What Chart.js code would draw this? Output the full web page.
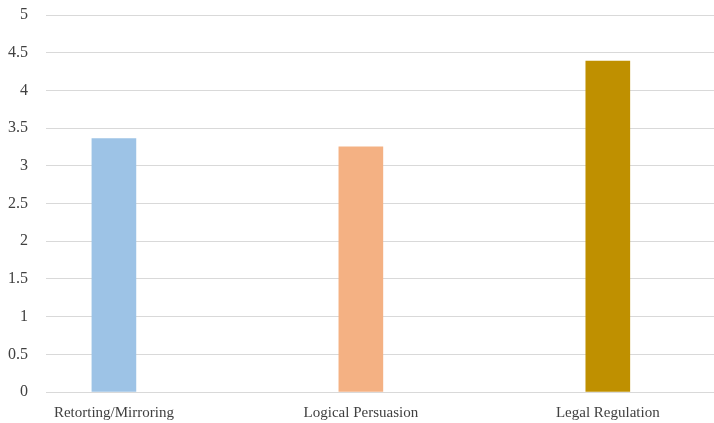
<!DOCTYPE html>
<html>
<head>
<meta charset="utf-8">
<script src="https://cdn.jsdelivr.net/npm/chart.js@4"></script>
<style>
  html, body { margin: 0; padding: 0; background: #fff; }
  #wrap { width: 714px; height: 423px; }
</style>
</head>
<body>
<div id="wrap"><canvas id="bars"></canvas></div>
<script>
// CHART DATA
let strategies = [
    "Retorting/Mirroring",
    "Logical Persuasion",
    "Legal Regulation",
];
let scores = [3.36, 3.25, 4.39];
let colors = [
    "#9DC3E6",
    "#F4B183",
    "#BF9000",
];
let yTicks = [0, 0.5, 1, 1.5, 2, 2.5, 3, 3.5, 4, 4.5, 5];

Chart.defaults.font.family = "'Liberation Serif', 'Times New Roman', serif";
Chart.defaults.color = "#404040";

new Chart("bars", {
    type: "bar",
    data: {
        datasets: [
            {
                data: scores.map((v, i) => ({ x: i, y: v })),
                backgroundColor: colors,
                barThickness: 44,
            },
        ],
    },
    options: {
        responsive: true,
        maintainAspectRatio: false,
        animation: false,
        layout: { padding: { top: 15, right: 0, bottom: 0, left: 0 } },
        plugins: {
            legend: { display: false },
            tooltip: { enabled: false },
        },
        scales: {
            x: {
                type: "linear",
                min: -0.275,
                max: 2.43,
                offset: false,
                grid: { display: false, drawTicks: false },
                border: { display: false },
                afterBuildTicks: scale => {
                    scale.ticks = strategies.map((s, i) => ({ value: i }));
                },
                afterFit: scale => {
                    scale.height = 31;
                    scale.paddingLeft = 0;
                    scale.paddingRight = 0;
                },
                ticks: {
                    autoSkip: false,
                    maxRotation: 0,
                    padding: 12,
                    font: { size: 15 },
                    callback: v => strategies[v],
                },
            },
            y: {
                min: 0,
                max: 5,
                afterBuildTicks: scale => {
                    scale.ticks = yTicks.map(v => ({ value: v }));
                },
                afterFit: scale => {
                    scale.width = 46;
                    scale.paddingTop = 0;
                    scale.paddingBottom = 0;
                },
                grid: { color: "#d9d9d9", lineWidth: 1, drawTicks: false },
                border: { display: false },
                ticks: {
                    padding: 18,
                    font: { size: 16 },
                    callback: v => String(v),
                },
            },
        },
    },
});
</script>
</body>
</html>
